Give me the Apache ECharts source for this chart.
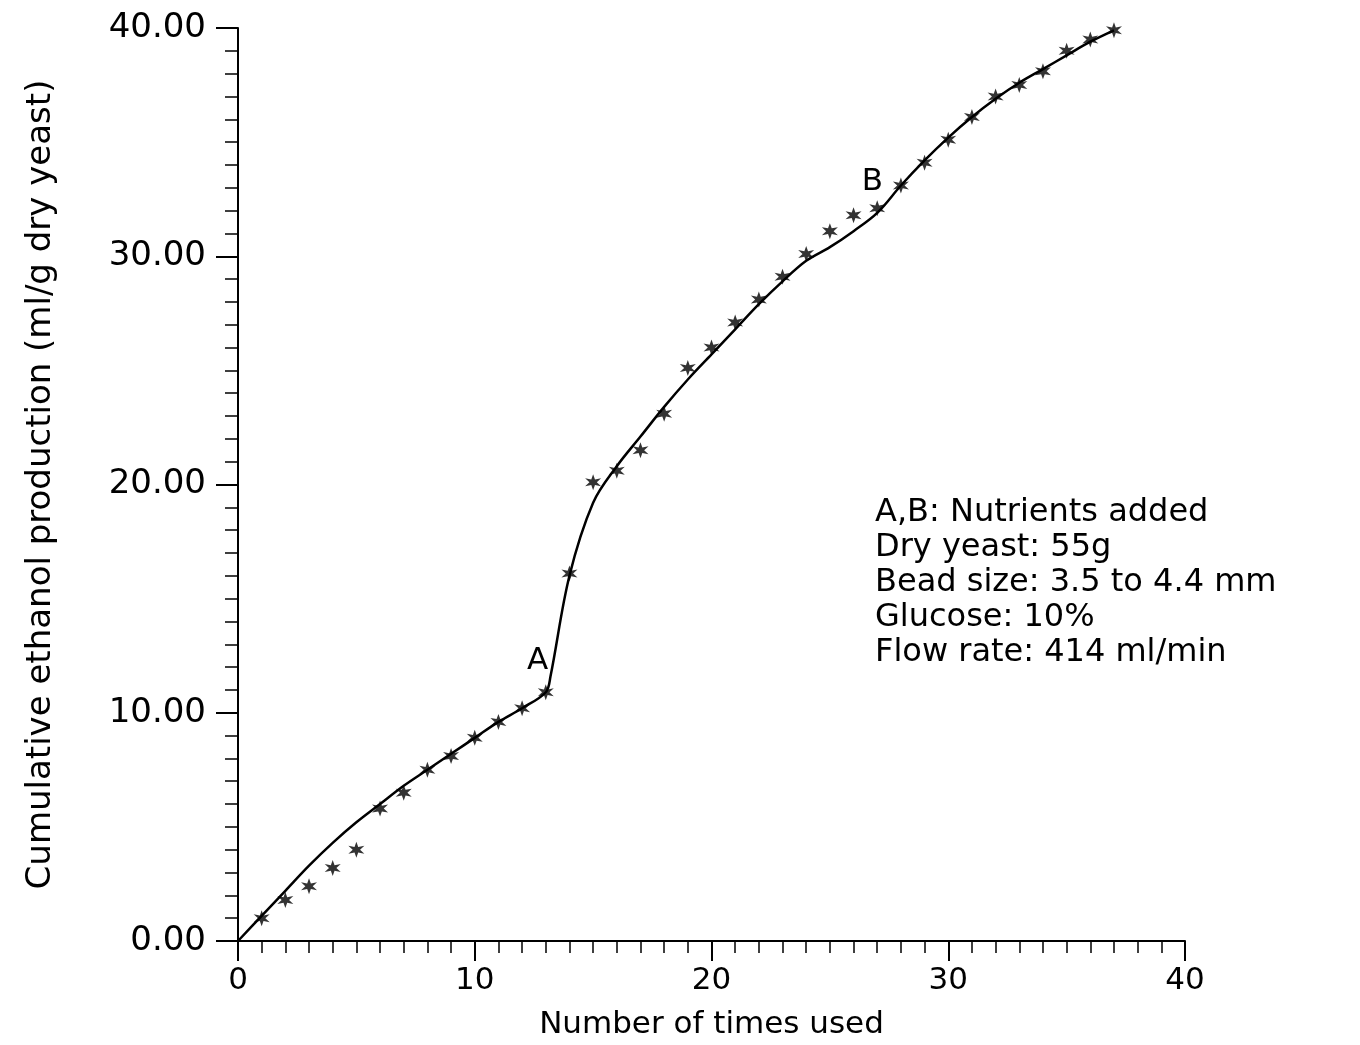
<!DOCTYPE html>
<html>
<head>
<meta charset="utf-8">
<script src="https://cdn.jsdelivr.net/npm/echarts@6/dist/echarts.min.js"></script>
<style>
  html, body { margin: 0; padding: 0; background: #fff; }
  #chart { width: 1360px; height: 1045px; }
</style>
</head>
<body>
<div id="chart"></div>
<script>
// measured points (stars)
var timesUsed = [1,2,3,4,5,6,7,8,9,10,11,12,13,14,15,16,17,18,19,20,21,22,23,24,25,26,27,28,29,30,31,32,33,34,35,36,37];
var ethanol = [1.0,1.8,2.4,3.2,4.0,5.8,6.5,7.5,8.1,8.9,9.6,10.2,10.9,16.1,20.1,20.6,21.5,23.1,25.1,26.0,27.1,28.1,29.1,30.1,31.1,31.8,32.1,33.1,34.1,35.1,36.1,37.0,37.5,38.1,39.0,39.5,39.9];

// fitted curve
var fitX = [0,1,2,3,4,5,6,7,8,9,10,11,12,13,13.2,14,15,16,17,18,19,20,21,22,23,24,25,26,27,28,29,30,31,32,33,34,35,36,37];
var fitY = [0,1.1,2.2,3.3,4.3,5.2,6.0,6.8,7.5,8.2,8.9,9.6,10.2,10.9,11.6,16.0,19.2,20.8,22.1,23.4,24.6,25.7,26.8,27.9,28.9,29.8,30.4,31.1,31.9,33.1,34.2,35.2,36.1,36.9,37.6,38.2,38.8,39.4,39.9];

// annotation letters
var markNames = ['A', 'B'];
var markX = [12.65, 26.8];
var markY = [12.25, 33.25];

var infoLines = [
    'A,B: Nutrients added',
    'Dry yeast: 55g',
    'Bead size: 3.5 to 4.4 mm',
    'Glucose: 10%',
    'Flow rate: 414 ml/min'
];

// six-pointed asterisk symbol
function asteriskPath() {
    var pts = [];
    for (var i = 0; i < 12; i++) {
        var a = i * Math.PI / 6;
        var r = (i % 2 === 0) ? 10 : 4;
        pts.push((10 + r * Math.sin(a)).toFixed(2) + ' ' + (10 - r * Math.cos(a)).toFixed(2));
    }
    return 'path://M' + pts.join(' L') + ' Z';
}

var font = 'DejaVu Sans';
var myChart = echarts.init(document.getElementById('chart'));

var option = {
    backgroundColor: '#fff',
    animation: false,
    grid: { left: 238, right: 175, top: 28, bottom: 100 },
    xAxis: {
        type: 'value',
        min: 0, max: 40, interval: 10,
        name: 'Number of times used',
        nameLocation: 'middle',
        nameGap: 68,
        nameTextStyle: { fontFamily: font, fontSize: 31, color: '#000' },
        axisLine: { lineStyle: { color: '#000', width: 2 } },
        axisTick: { length: 20, lineStyle: { color: '#000', width: 2 } },
        minorTick: { show: true, splitNumber: 10, length: 12, lineStyle: { color: '#000', width: 1.5 } },
        splitLine: { show: false },
        axisLabel: { fontFamily: font, fontSize: 31, color: '#000', margin: 24 }
    },
    yAxis: {
        type: 'value',
        min: 0, max: 40, interval: 10,
        name: 'Cumulative ethanol production (ml/g dry yeast)',
        nameLocation: 'middle',
        nameGap: 180,
        nameTextStyle: { fontFamily: font, fontSize: 34, color: '#000' },
        axisLine: { lineStyle: { color: '#000', width: 2 } },
        axisTick: { length: 22, lineStyle: { color: '#000', width: 2 } },
        minorTick: { show: true, splitNumber: 10, length: 13, lineStyle: { color: '#000', width: 1.5 } },
        splitLine: { show: false },
        axisLabel: {
            fontFamily: font, fontSize: 34, color: '#000', margin: 32,
            formatter: function (v) { return v.toFixed(2); }
        }
    },
    series: [
        {
            name: 'fit',
            type: 'line',
            data: fitX.map(function (x, i) { return [x, fitY[i]]; }),
            smooth: 0.35,
            showSymbol: false,
            lineStyle: { color: '#000', width: 2.5 },
            markPoint: {
                symbol: 'circle',
                symbolSize: 1,
                itemStyle: { color: 'rgba(0,0,0,0)' },
                label: {
                    show: true, position: 'inside',
                    fontFamily: font, fontSize: 31, color: '#000', formatter: '{b}'
                },
                data: markNames.map(function (n, i) { return { name: n, coord: [markX[i], markY[i]] }; })
            }
        },
        {
            name: 'measured',
            type: 'scatter',
            data: timesUsed.map(function (x, i) { return [x, ethanol[i]]; }),
            symbol: asteriskPath(),
            symbolSize: 16,
            itemStyle: { color: '#000' }
        }
    ],
    graphic: [{
        type: 'text',
        left: 875,
        top: 495,
        style: {
            text: infoLines.join('\n'),
            font: '32px "' + font + '"',
            lineHeight: 35,
            fill: '#000'
        }
    }]
};

myChart.setOption(option);
</script>
</body>
</html>
